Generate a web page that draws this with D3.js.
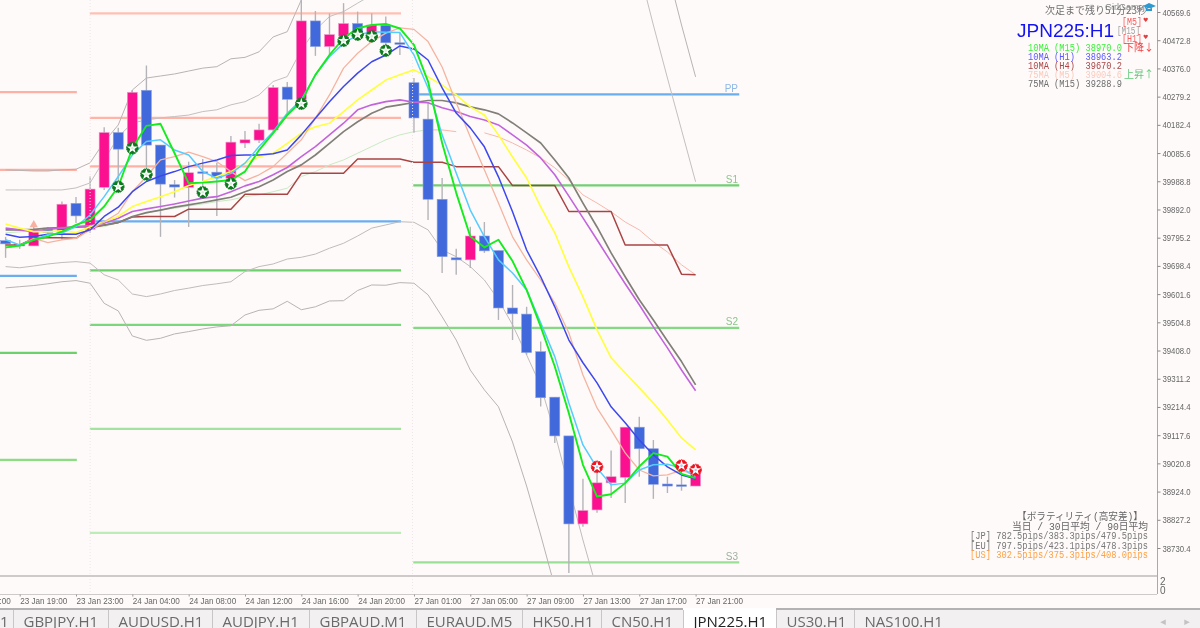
<!DOCTYPE html>
<html><head><meta charset="utf-8">
<style>html,body{margin:0;padding:0;background:#fffafa;overflow:hidden}svg{display:block;filter:blur(.35px)}</style>
<script src="https://cdnjs.cloudflare.com/ajax/libs/d3/7.8.5/d3.min.js"></script>
</head><body><svg id="c" width="1200" height="628"></svg>
<script>
const opens=[39785,39772,39767,39828,39816,39913,39824,39968,40156,40113,40301,40113,39977,39968,40021,40020,39999,40120,40130,40165,40312,40270,40539,40451,40487,40530,40497,40524,40464,40327,40202,39927,39726,39719,39801,39751,39554,39533,39404,39248,39115,38813,38861,38954,38973,39145,39071,38950,38947,38943];
const highs=[39798,39788,39836,39832,39919,39935,40005,40174,40172,40302,40386,40113,39993,40056,40065,40052,40144,40161,40186,40319,40329,40628,40573,40565,40600,40571,40565,40554,40498,40343,40258,40000,39757,39833,39849,39751,39633,39558,39439,39248,39115,38968,38998,39065,39145,39181,39101,38975,39010,39005];
const lows=[39726,39757,39767,39810,39788,39846,39812,39959,39987,40079,40017,39798,39933,39832,39959,39870,39966,40103,40120,40159,40223,40240,40419,40422,40453,40474,40468,40439,40422,40155,39856,39674,39668,39691,39743,39513,39444,39393,39216,39091,38645,38803,38851,38902,38885,38975,38899,38919,38927,38943];
const closes=[39774,39767,39822,39814,39910,39870,39962,40156,40099,40294,40113,39979,39969,40018,40017,40000,40123,40131,40165,40310,40270,40539,40451,40492,40530,40491,40525,40464,40462,40206,39927,39730,39719,39801,39750,39554,39534,39401,39246,39115,38813,38859,38954,38975,39145,39071,38949,38943,38943,38985];

const maGreen=[39762,39768,39788,39799,39816,39839,39856,39902,39970,40102,40179,40186,40085,39982,39984,39988,39993,40022,40096,40154,40216,40262,40354,40422,40480,40514,40525,40529,40513,40457,40331,40120,39949,39799,39762,39788,39715,39616,39490,39353,39193,39016,38907,38915,38953,39010,39056,39044,38985,38970];
const maCyan=[39788,39770,39788,39805,39811,39833,39873,39936,40005,40079,40125,40131,40096,40079,40022,39999,40016,40051,40108,40159,40222,40268,40354,40416,40462,40491,40502,40500,40499,40422,40309,40148,40017,39890,39799,39719,39674,39616,39503,39387,39228,39084,39005,38947,38953,38998,39016,39018,39005,38975];
const maBlue=[39807,39797,39799,39807,39808,39807,39822,39868,39900,39953,39988,40007,40022,40039,40051,40062,40077,40079,40079,40083,40096,40148,40205,40262,40314,40360,40399,40422,40453,40443,40405,40309,40223,40172,40107,40004,39884,39753,39661,39558,39444,39366,39297,39215,39160,39101,39050,39009,38981,38968];
const maSalmon=[39760,39767,39793,39778,39788,39793,39822,39850,39879,39953,40005,40062,40073,40089,40073,40056,40022,39991,40011,40039,40085,40131,40205,40285,40377,40428,40468,40497,40515,40510,40468,40381,40258,40141,40028,39914,39798,39719,39650,39571,39468,39324,39211,39136,39057,38998,38978,38981,38998,38978];
const maYellow=[39842,39828,39816,39816,39819,39813,39833,39850,39868,39902,39919,39936,39953,39974,39988,40005,40022,40051,40073,40085,40119,40154,40176,40188,40228,40268,40302,40336,40354,40371,40347,40319,40285,40244,40216,40148,40072,40000,39901,39812,39695,39592,39479,39383,39331,39280,39228,39170,39108,39067];
const maOrchid=[39828,39822,39816,39824,39828,39833,39837,39845,39862,39885,39894,39902,39911,39921,39931,39936,39953,39973,39988,40011,40036,40073,40108,40148,40188,40234,40251,40262,40268,40260,40258,40241,40228,40211,40199,40182,40148,40113,40069,40011,39938,39863,39788,39712,39637,39565,39489,39417,39341,39270];
const maGrey=[39822,39822,39824,39828,39830,39831,39833,39838,39847,39868,39881,39890,39900,39908,39916,39925,39934,39953,39970,39993,40022,40045,40079,40119,40159,40193,40222,40243,40251,40259,40266,40266,40258,40244,40234,40220,40189,40155,40120,40062,40000,39914,39832,39743,39661,39582,39513,39441,39370,39290];
const maPaleGreen=[39812,39815,39822,39824,39825,39829,39832,39833,39847,39868,39879,39890,39896,39904,39911,39919,39925,39936,39942,39953,39965,40005,40022,40045,40062,40085,40108,40131,40148,40159,40165];
const maPaleSalmon=[null,null,null,null,null,null,null,null,null,null,null,null,null,null,null,null,null,null,null,null,null,null,null,null,null,null,null,null,null,null,40165,40165,40159,null,40155,40141,40120,40096,40069,40035,39993,39942,39914,39884,39849,39822,39781,39746,39702,39668];
const maBrown=[39770,39770,39793,39795,39795,39793,39828,39839,39847,39866,39868,39868,39868,39893,39893,39893,39893,39944,39944,39944,39944,40016,40016,40016,40016,40065,40065,40065,40065,40054,40054,40054,40039,40039,40039,40039,39974,39974,39974,39974,39885,39885,39885,39885,39770,39770,39770,39770,39670,39668];

const bbUpperOuter=[40028,40026,40024,40024,40028,40030,40052,40124,40182,40302,40343,40350,40357,40367,40377,40382,40409,40414,40433,40484,40502,40611,40714,null,null,null,null,null,null,null,null,null,null,null,null,null,null,null,null,null,null,null,null,null,null,null,null,40714,40525,40347];
const bbUpperInner=[39959,39959,39959,39959,39959,39966,39983,40062,40141,40189,40199,40206,40211,40216,40228,40234,40251,40262,40285,40331,40348,40439,40508,40554,40571,40600,40628,null,null,null,null,null,null,null,null,null,null,null,null,null,null,null,null,null,null,40714,40525,40343,40165,39987];
const bbLowerInner=[39696,39692,39698,39705,39710,39713,39708,39668,39650,39602,39593,39602,39614,39622,39631,39637,39644,39679,39696,39705,39722,39728,39739,39759,39776,39801,39828,39839,39850,39848,39822,39753,39730,39696,39650,39582,39496,39393,39287,39125,38940,38758,38587];
const bbLowerOuter=[39623,39627,39631,39637,39644,39648,39639,39570,39544,39458,39443,39450,39465,39473,39482,39489,39493,39530,39546,39551,39577,39548,39558,39578,39579,39614,39633,39632,39641,39639,39599,39524,39444,39341,39273,39215,39094,38943,38775,38597];

const greenMarkIdx=[8,9,10,14,16,21,24,25,26,27];
const greenMarkVal=[39970,40102,40012,39951,39981,40255,40471,40492,40486,40437];
const redMarkIdx=[42,48,49];
const redMarkVal=[39009,39013,38998];

const levelsDay1=[40295,40028,39664,39400,39033];
const levelsDay1Col=["#ffb0a4","#ffb0a4","#6aaef0","#6cd06c","#8cdc84"];
const levelsDay2=[40565,40206,40040,39851,39683,39496,39139,38782];
const levelsDay2Col=["#ffc0b4","#ffb4a8","#ffb0a4","#6aaef0","#6cd06c","#7cd67c","#a4e2a0","#bcecb8"];
const levelsDay3=[40287,39975,39486,38681];
const levelsDay3Col=["#6aaef0","#72cf72","#84da84","#98e094"];
const levelsDay3Names=["PP","S1","S2","S3"];
const levelsDay3TextCol=["#8fb8e4","#8cc48c","#8cc48c","#9cb09c"];

const priceTicks=[40569.6,40472.8,40376.0,40279.2,40182.4,40085.6,39988.8,39892.0,39795.2,39698.4,39601.6,39504.8,39408.0,39311.2,39214.4,39117.6,39020.8,38924.0,38827.2,38730.4];
const timeTickIdx=[-3,1,5,9,13,17,21,25,29,33,37,41,45,49];
const timeTickLabels=["23 Jan 15:00","23 Jan 19:00","23 Jan 23:00","24 Jan 04:00","24 Jan 08:00","24 Jan 12:00","24 Jan 16:00","24 Jan 20:00","27 Jan 01:00","27 Jan 05:00","27 Jan 09:00","27 Jan 13:00","27 Jan 17:00","27 Jan 21:00"];

const tabNames=["GBPJPY.H1","AUDUSD.H1","AUDJPY.H1","GBPAUD.M1","EURAUD.M5","HK50.H1","CN50.H1","JPN225.H1","US30.H1","NAS100.H1"];
const tabEdges=[13,108,212,309,416,522,601,683,776,854,955];
const legendLines=["10MA (M15) 38970.0","10MA (H1)  38963.2","10MA (H4)  39670.2","75MA (M5)  39004.6","75MA (M15) 39288.9"];
const legendCols=["#3cf03c","#5a5aff","#a84848","#fbcabc","#6e6e6e"];
const volLines=["【ボラティリティ(高安差)】","当日 / 30日平均 / 90日平均","[JP] 782.5pips/383.3pips/479.5pips","[EU] 797.5pips/423.1pips/478.3pips","[US] 302.5pips/375.3pips/408.0pips"];
const volCols=["#666","#666","#777","#777","#ffa040"];
const volRight=[1143,1148,1148,1148,1148];
const volWidth=[126,136,178,178,178];

const svg=d3.select("#c");
const x=d3.scaleLinear().domain([0,49]).range([5.6,695.6]);
const y=d3.scaleLinear().domain([40569.6,38730.4]).range([12,548]);

svg.append("rect").attr("width",1200).attr("height",628).attr("fill","#fffafa");
svg.append("defs").append("clipPath").attr("id","main").append("rect").attr("width",1157).attr("height",575);
const g=svg.append("g").attr("clip-path","url(#main)");

// period separators
[5.65,28.55].forEach(i=>{svg.append("line").attr("x1",x(i+0.35)).attr("x2",x(i+0.35)).attr("y1",0).attr("y2",594).attr("stroke","#eee6e6").attr("stroke-dasharray","1 2");});

// pivot levels
function levels(vals,cols,a,b){
  g.selectAll(null).data(vals).enter().append("line")
   .attr("x1",x(a)).attr("x2",x(b)).attr("y1",d=>y(d)).attr("y2",d=>y(d))
   .attr("stroke",(d,i)=>cols[i]).attr("stroke-width",2.2);
}
levels(levelsDay1,levelsDay1Col,-1,5.06);
levels(levelsDay2,levelsDay2Col,5.98,28.08);
levels(levelsDay3,levelsDay3Col,28.95,52.1);
svg.selectAll(null).data(levelsDay3).enter().append("text")
  .attr("x",738).attr("y",d=>y(d)-2.5).attr("text-anchor","end")
  .attr("font-family","Liberation Sans").attr("font-size",10).attr("fill",(d,i)=>levelsDay3TextCol[i])
  .text((d,i)=>levelsDay3Names[i]);

// lines
const ln=d3.line().defined(d=>d!=null).x((d,i)=>x(i)).y(d=>y(d));
function draw(arr,col,w){g.append("path").attr("d",ln(arr)).attr("fill","none").attr("stroke",col).attr("stroke-width",w).attr("stroke-linejoin","round");}
draw(bbUpperOuter,"#b8b4b4",1);
draw(bbUpperInner,"#c4c0c0",1);
draw(bbLowerInner,"#c0bcbc",1);
draw(bbLowerOuter,"#b8b4b4",1);
draw(maPaleGreen,"#c8eac4",1);
draw(maPaleSalmon,"#f8b8ac",1);

// candles
const n=opens.length, bw=10;
const cg=g.append("g");
cg.selectAll("line").data(d3.range(n)).enter().append("line")
  .attr("x1",i=>x(i)).attr("x2",i=>x(i)).attr("y1",i=>y(highs[i])).attr("y2",i=>y(lows[i]))
  .attr("stroke","#b4b4b8").attr("stroke-width",1.4);
cg.selectAll("rect").data(d3.range(n)).enter().append("rect")
  .attr("x",i=>x(i)-bw/2).attr("width",bw)
  .attr("y",i=>y(Math.max(opens[i],closes[i])))
  .attr("height",i=>Math.max(1.5,Math.abs(y(opens[i])-y(closes[i]))))
  .attr("fill",i=>closes[i]>opens[i]?"#fb1190":"#4169dc")
  .attr("stroke",i=>closes[i]>opens[i]?"#e89cc8":"#8ea2dc").attr("stroke-width",.6);

draw(maBrown,"#a84444",1.5);
draw(maGrey,"#808078",1.7);
draw(maOrchid,"#c264dc",1.6);
draw(maYellow,"#ffff3c",1.6);
draw(maSalmon,"#f4b4a0",1.3);
draw(maBlue,"#3c48ee",1.5);
draw(maCyan,"#55ccff",1.5);
draw(maGreen,"#14ec1c",1.9);

// marks
function marks(idx,vals,fill,ring,center){
  const m=g.selectAll(null).data(idx).enter().append("g")
    .attr("transform",(d,k)=>`translate(${x(d)},${y(vals[k])})`);
  m.append("circle").attr("r",5.8).attr("fill",fill).attr("stroke",ring).attr("stroke-width",1).attr("stroke-dasharray","1.6 1");
  m.append("path").attr("d",d3.symbol(d3.symbolStar,38)).attr("fill","#fff");
  m.append("circle").attr("r",1.3).attr("fill",center);
}
marks(greenMarkIdx,greenMarkVal,"#0c7a1c","#0c7a1c","#d4f0d4");
marks(redMarkIdx,redMarkVal,"#ee1420","#ee1420","#a8d0f4");
g.append("path").attr("d",d3.symbol(d3.symbolTriangle,30)).attr("transform",`translate(${x(2)},${y(39836)-1})`).attr("fill","#f8b0a0");

// frames
const frame="#cfcaca";
svg.append("line").attr("x1",0).attr("x2",1157).attr("y1",576).attr("y2",576).attr("stroke",frame).attr("stroke-width",2);
svg.append("line").attr("x1",0).attr("x2",1157).attr("y1",594.5).attr("y2",594.5).attr("stroke",frame).attr("stroke-width",1);
svg.append("line").attr("x1",1157.5).attr("x2",1157.5).attr("y1",0).attr("y2",594).attr("stroke","#aaa8a8").attr("stroke-width",1);

// axes
const yAxis=d3.axisRight(y).tickValues(priceTicks).tickFormat(d3.format(".1f")).tickSize(3).tickPadding(2);
const ya=svg.append("g").attr("transform","translate(1157.5,0)").call(yAxis);
ya.select(".domain").remove();
ya.selectAll("line").attr("stroke","#888");
ya.selectAll("text").attr("font-family","Liberation Sans").attr("font-size",9.5).attr("fill","#666")
  .attr("textLength",28).attr("lengthAdjust","spacingAndGlyphs");

const xAxis=d3.axisBottom(x).tickValues(timeTickIdx).tickFormat((d,k)=>timeTickLabels[k]).tickSize(2).tickPadding(1);
const xa=svg.append("g").attr("transform","translate(0,594.5)").call(xAxis);
xa.select(".domain").remove();
xa.selectAll("line").attr("stroke","#999");
xa.selectAll("text").attr("text-anchor","start").attr("font-family","Liberation Sans").attr("font-size",9).attr("fill","#666")
  .attr("textLength",47).attr("lengthAdjust","spacingAndGlyphs");

svg.selectAll(null).data(["2","0"]).enter().append("text").attr("x",1160).attr("y",(d,i)=>585+i*8.5)
  .attr("font-family","Liberation Sans").attr("font-size",10).attr("fill","#666").text(d=>d);

// tab strip
svg.append("rect").attr("y",609).attr("width",1200).attr("height",19).attr("fill","#f2f0f0");
svg.append("line").attr("x1",0).attr("x2",1200).attr("y1",609).attr("y2",609).attr("stroke","#b4b2b2").attr("stroke-width",2);
svg.append("rect").attr("x",tabEdges[7]).attr("y",608).attr("width",tabEdges[8]-tabEdges[7]).attr("height",20).attr("fill","#fff");
svg.selectAll(null).data(tabEdges.slice(0,10)).enter().append("line")
  .attr("x1",d=>d+.5).attr("x2",d=>d+.5).attr("y1",610).attr("y2",628).attr("stroke","#c8c6c6");
svg.selectAll(null).data(tabNames).enter().append("text")
  .attr("x",(d,i)=>tabEdges[i]+10.5).attr("y",627)
  .attr("font-family","Open Sans").attr("font-size",15)
  .attr("fill",(d,i)=>i==7?"#222":"#6a6a6a").text(d=>d);
svg.append("text").attr("x",0).attr("y",627).attr("font-family","Open Sans").attr("font-size",15).attr("fill","#6a6a6a").text("1");
svg.selectAll(null).data(["◂","▸"]).enter().append("text").attr("x",(d,i)=>1163+i*24).attr("y",625)
  .attr("text-anchor","middle").attr("font-family","DejaVu Sans").attr("font-size",11).attr("fill","#c4c2c2").text(d=>d);

// top-right info
const mono="Liberation Mono, Noto Sans CJK JP";
svg.append("text").attr("x",1045).attr("y",14).attr("font-family","Noto Sans CJK JP").attr("font-size",10).attr("fill","#707070")
  .attr("textLength",102).attr("lengthAdjust","spacingAndGlyphs").text("次足まで残り51分23秒");
svg.append("text").attr("x",1105).attr("y",10).attr("font-family","Liberation Sans").attr("font-size",9).attr("fill","#888").text("GirlGame");
svg.append("path").attr("d","M1143 6 L1149 3 L1156 6 L1149 9 Z M1146 8 L1146 11 L1152 11 L1152 8 Z").attr("fill","#2c9ad0");
svg.append("text").attr("x",1017).attr("y",37).attr("font-family","Liberation Sans").attr("font-size",19).attr("fill","#1414f0").text("JPN225:H1");
[["[M5]",1122,24.5,"#f06060",20],["[M15]",1117,33.5,"#a0a0a0",23],["[H1]",1122,42,"#f06060",20]].forEach(r=>{
  svg.append("text").attr("x",r[1]).attr("y",r[2]).attr("font-family",mono).attr("font-size",10).attr("fill",r[3])
    .attr("textLength",r[4]).attr("lengthAdjust","spacingAndGlyphs").text(r[0]);
});
[[1143,22],[1143,39]].forEach(p=>svg.append("text").attr("x",p[0]).attr("y",p[1]).attr("font-family","DejaVu Sans").attr("font-size",6).attr("fill","#e04040").text("♥"));
svg.selectAll(null).data(legendLines).enter().append("text")
  .attr("x",1028).attr("y",(d,i)=>50.5+i*9.1).attr("font-family",mono).attr("font-size",10).attr("xml:space","preserve").style("white-space","pre")
  .attr("fill",(d,i)=>legendCols[i]).attr("textLength",94).attr("lengthAdjust","spacingAndGlyphs").text(d=>d);
svg.append("text").attr("x",1124).attr("y",51).attr("font-family","Noto Sans CJK JP").attr("font-size",10).attr("fill","#f04040").text("下降↓");
svg.append("text").attr("x",1124).attr("y",78).attr("font-family","Noto Sans CJK JP").attr("font-size",10).attr("fill","#60c878").text("上昇↑");

// volatility block
svg.selectAll(null).data(volLines).enter().append("text")
  .attr("x",(d,i)=>volRight[i]).attr("y",(d,i)=>520+i*9.5).attr("text-anchor","end").attr("font-family",mono).attr("font-size",10)
  .attr("fill",(d,i)=>volCols[i]).attr("textLength",(d,i)=>volWidth[i]).attr("lengthAdjust","spacingAndGlyphs").text(d=>d);
</script></body></html>
